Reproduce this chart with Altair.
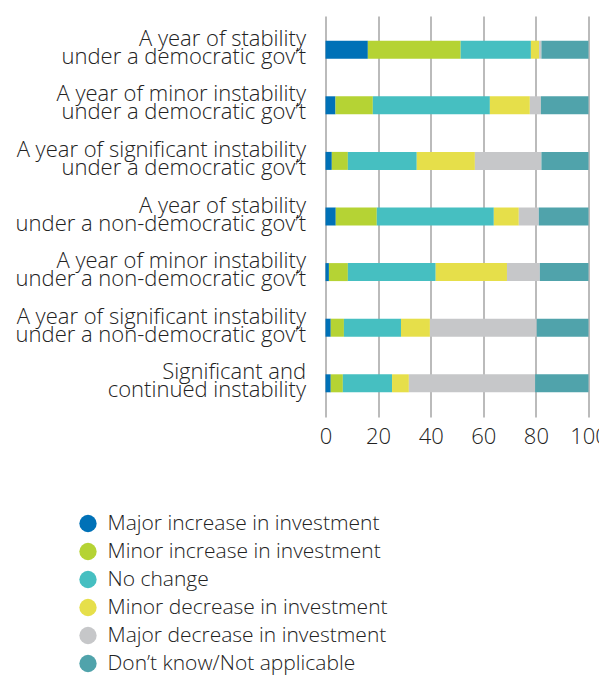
import altair as alt
import pandas as pd

categories = [
    "A year of stability|under a democratic gov\u2019t",
    "A year of minor instability|under a democratic gov\u2019t",
    "A year of significant instability|under a democratic gov\u2019t",
    "A year of stability|under a non-democratic gov\u2019t",
    "A year of minor instability|under a non-democratic gov\u2019t",
    "A year of significant instability|under a non-democratic gov\u2019t",
    "Significant and|continued instability",
]
series = [
    "Major increase in investment",
    "Minor increase in investment",
    "No change",
    "Minor decrease in investment",
    "Major decrease in investment",
    "Don\u2019t know/Not applicable",
]
colors = ["#0071B7", "#B5D334", "#46BFC1", "#E6DF4A", "#C6C7C9", "#50A3AB"]

major_increase = [16.1, 3.8, 2.4, 3.9, 1.3, 2.0, 2.0]
minor_increase = [35.3, 14.2, 6.1, 15.6, 7.2, 5.0, 4.6]
no_change = [26.7, 44.5, 26.2, 44.5, 33.4, 21.7, 18.7]
minor_decrease = [3.1, 15.2, 22.1, 9.5, 27.1, 11.0, 6.4]
major_decrease = [0.9, 4.2, 25.3, 7.6, 12.5, 40.6, 48.0]
dont_know = [17.9, 18.1, 17.9, 18.9, 18.5, 19.7, 20.3]

values = [major_increase, minor_increase, no_change, minor_decrease, major_decrease, dont_know]

rows = []
for si, (s, vals) in enumerate(zip(series, values)):
    for c, v in zip(categories, vals):
        rows.append({"category": c, "series": s, "value": v, "order": si})
df = pd.DataFrame(rows)

FONT = "Open Sans"

chart = alt.Chart(df).mark_bar(size=18).encode(
    y=alt.Y(
        "category:N",
        sort=categories,
        title=None,
        scale=alt.Scale(paddingInner=0.676, paddingOuter=0.444),
        axis=alt.Axis(
            labelExpr="split(datum.value, '|')",
            labelFontSize=22,
            labelLineHeight=18,
            labelFont=FONT,
            labelFontWeight=300,
            labelColor="#222222",
            labelPadding=20,
            labelLimit=400,
            labelOffset=-11,
            ticks=False,
            domain=False,
            grid=False,
        ),
    ),
    x=alt.X(
        "value:Q",
        stack="zero",
        title=None,
        scale=alt.Scale(domain=[0, 100], nice=False),
        axis=alt.Axis(
            values=[0, 20, 40, 60, 80, 100],
            grid=True,
            gridColor="#AAAAAA",
            gridWidth=1.6,
            ticks=False,
            domain=False,
            labelFlush=False,
            labelFontSize=22,
            labelFont=FONT,
            labelFontWeight=300,
            labelColor="#222222",
            labelPadding=9,
        ),
    ),
    color=alt.Color(
        "series:N",
        sort=series,
        scale=alt.Scale(domain=series, range=colors),
        legend=alt.Legend(
            title=None,
            orient="none",
            legendX=-248,
            legendY=497,
            symbolType="circle",
            symbolSize=300,
            symbolStrokeWidth=0,
            labelFontSize=21,
            labelFont=FONT,
            labelFontWeight=300,
            labelColor="#222222",
            labelOffset=9,
            rowPadding=6,
            padding=0,
            labelLimit=400,
        ),
    ),
    order=alt.Order("order:Q"),
).properties(
    width=263,
    height=401,
    autosize=alt.AutoSizeParams(type="none"),
    padding={"left": 317.5, "top": 8, "right": 10, "bottom": 260},
).configure_view(stroke=None)

chart.save("out.html", embed_options={"renderer": "svg", "actions": False})
